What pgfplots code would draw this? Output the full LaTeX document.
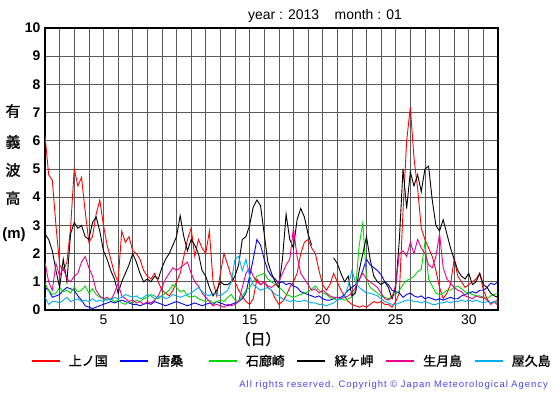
\documentclass[border=0pt]{standalone}
\usepackage{pgfplots}
\pgfplotsset{compat=1.18}
\usepackage{pgfplotstable}
\usepackage{fontspec}
\setmainfont{Liberation Sans}
\newfontfamily\jp{Noto Sans CJK JP}[FakeBold=1.2]
\newfontfamily\cprfont{Liberation Sans}[LetterSpace=10]
\definecolor{cpr}{RGB}{70,70,240}
\definecolor{grn}{RGB}{0,215,0}

\pgfplotstableread{
d R B G K M C
1.00 6.2 0.8 0.95 2.7 1.7 0.45
1.25 4.8 0.7 0.7 2.5 1.0 0.2
1.50 4.6 0.45 0.55 2.1 0.7 0.3
1.75 3.0 0.5 0.6 1.4 1.65 0.3
2.00 1.6 0.55 0.8 0.8 1.2 0.25
2.25 1.4 0.7 0.65 1.8 1.5 0.35
2.50 1.7 0.8 0.7 1.0 1.1 0.45
2.75 2.9 0.75 0.6 2.7 1.0 0.3
3.00 5.0 0.7 0.8 3.1 1.2 0.35
3.25 4.4 0.5 0.65 2.9 1.3 0.4
3.50 4.7 0.35 0.7 3.0 1.7 0.3
3.75 3.5 0.15 0.85 2.6 1.9 0.35
4.00 2.4 0.1 0.6 2.5 1.5 0.3
4.25 2.6 0.05 0.75 3.1 1.2 0.4
4.50 3.4 0.1 0.55 3.3 0.7 0.3
4.75 3.9 0.15 0.45 2.8 0.5 0.35
5.00 3.0 0.2 0.4 2.1 0.4 0.3
5.25 2.3 0.25 0.35 1.8 0.45 0.4
5.50 1.8 0.3 0.4 1.4 0.35 0.35
5.75 1.3 0.25 0.3 1.1 0.6 0.45
6.00 1.0 0.3 0.35 0.6 0.95 0.4
6.25 2.8 0.35 0.25 1.0 0.5 0.45
6.50 2.4 0.3 0.2 1.3 0.4 0.55
6.75 2.6 0.25 0.3 1.6 0.3 0.5
7.00 2.1 0.2 0.25 2.0 0.35 0.45
7.25 2.0 0.2 0.35 1.7 0.25 0.5
7.50 1.8 0.15 0.3 1.3 0.3 0.4
7.75 1.4 0.2 0.4 1.0 0.2 0.45
8.00 1.2 0.25 0.45 1.1 0.3 0.55
8.25 1.1 0.2 0.55 1.0 0.25 0.5
8.50 1.3 0.3 0.5 1.2 0.35 0.4
8.75 1.0 0.25 0.4 1.1 0.5 0.45
9.00 0.7 0.2 0.5 1.5 0.8 0.5
9.25 0.6 0.15 0.6 1.8 1.1 0.4
9.50 0.5 0.2 0.7 2.0 1.3 0.45
9.75 0.7 0.25 0.9 2.3 1.5 0.55
10.00 1.0 0.3 0.8 2.6 1.4 0.5
10.25 1.3 0.25 0.65 3.35 1.5 0.45
10.50 1.9 0.2 0.7 2.6 1.6 0.5
10.75 2.5 0.15 0.5 2.1 1.7 0.55
11.00 2.9 0.2 0.45 2.5 1.3 0.6
11.25 1.9 0.25 0.5 2.3 1.0 0.7
11.50 2.5 0.2 0.4 2.0 0.85 0.8
11.75 2.2 0.15 0.35 1.4 0.6 0.65
12.00 2.0 0.2 0.3 1.2 0.45 0.55
12.25 2.8 0.25 0.35 0.8 0.3 0.5
12.50 1.0 0.2 0.25 0.5 0.15 0.6
12.75 0.5 0.3 0.3 0.7 0.2 0.55
13.00 1.3 0.25 0.35 1.0 0.15 0.5
13.25 2.0 0.2 0.3 0.9 0.1 0.6
13.50 1.6 0.15 0.45 0.9 0.2 0.7
13.75 1.2 0.2 0.55 1.0 0.15 1.0
14.00 1.0 0.25 0.35 1.2 0.2 1.8
14.25 0.7 0.3 0.3 1.6 0.3 1.9
14.50 0.5 0.4 0.5 2.5 0.8 1.4
14.75 0.3 0.6 0.7 2.6 1.3 1.8
15.00 0.2 1.2 0.8 3.0 1.5 1.2
15.25 0.4 1.8 1.0 3.65 1.2 0.9
15.50 1.1 2.5 1.2 3.9 1.0 0.8
15.75 0.9 2.3 1.25 3.7 0.9 0.7
16.00 1.0 1.8 1.3 2.7 1.0 0.75
16.25 0.8 1.4 1.1 1.7 0.85 0.8
16.50 0.7 1.2 1.0 1.3 0.8 0.7
16.75 0.4 1.1 0.9 1.0 0.9 0.55
17.00 0.2 0.95 0.8 0.8 1.0 0.5
17.25 0.3 1.0 0.7 1.8 1.3 0.4
17.50 0.5 0.9 0.55 3.4 1.6 0.35
17.75 0.8 0.95 0.5 2.5 1.8 0.3
18.00 1.0 0.85 0.45 2.2 2.9 0.35
18.25 1.3 0.8 0.5 3.2 1.9 0.3
18.50 2.0 0.65 0.55 3.6 1.3 0.3
18.75 2.4 0.6 0.6 3.3 1.1 0.35
19.00 2.5 0.55 0.65 2.7 0.9 0.3
19.25 2.2 0.5 0.75 2.3 0.7 0.25
19.50 2.0 0.45 0.85 nan 0.75 0.25
19.75 1.4 0.5 0.7 nan 0.6 0.2
20.00 0.9 0.4 0.6 nan 0.7 0.2
20.25 0.7 0.35 0.55 nan 0.6 0.15
20.50 0.9 0.35 0.45 nan 0.5 0.2
20.75 1.3 0.4 0.4 1.85 0.45 0.25
21.00 1.0 0.45 0.35 1.65 0.45 0.35
21.25 0.7 0.45 0.4 1.3 0.4 0.4
21.50 0.5 0.55 0.35 1.0 0.45 0.5
21.75 0.3 0.7 0.4 1.2 0.5 0.85
22.00 0.2 0.8 0.45 0.5 0.6 1.4
22.25 0.15 0.9 0.7 0.6 0.8 1.0
22.50 0.1 1.05 2.3 1.4 1.1 0.8
22.75 0.15 1.4 3.1 2.0 1.3 0.7
23.00 0.1 1.8 1.1 2.6 1.1 0.6
23.25 0.2 1.6 0.8 1.8 1.0 0.6
23.50 0.3 1.5 0.7 1.2 0.9 0.55
23.75 0.25 1.4 0.6 1.0 0.8 0.5
24.00 0.3 1.25 0.5 0.9 0.6 0.4
24.25 0.2 1.0 0.45 1.0 0.4 0.3
24.50 0.2 0.9 0.4 0.8 0.35 0.25
24.75 0.1 0.7 0.5 0.4 0.45 0.2
25.00 0.3 0.65 0.55 0.8 0.9 0.2
25.25 0.6 0.6 0.7 2.5 2.0 0.25
25.50 3.5 0.45 0.9 5.0 2.1 0.3
25.75 6.0 0.55 1.05 3.6 1.9 0.35
26.00 7.2 0.6 1.1 4.9 2.4 0.35
26.25 5.4 0.5 1.2 4.4 2.0 0.3
26.50 4.3 0.45 1.35 4.8 2.5 0.3
26.75 2.9 0.5 1.45 4.2 2.2 0.25
27.00 2.5 0.4 2.4 5.0 2.0 0.3
27.25 2.2 0.45 1.1 5.1 1.6 0.25
27.50 1.9 0.4 0.85 3.9 1.5 0.2
27.75 1.4 0.35 0.6 3.0 1.9 0.2
28.00 0.8 0.4 0.55 2.8 2.7 0.25
28.25 0.4 0.35 0.6 3.2 1.5 0.25
28.50 0.6 0.4 0.7 2.7 1.1 0.3
28.75 0.9 0.45 0.7 2.2 0.95 0.25
29.00 1.8 0.4 0.8 1.8 0.8 0.3
29.25 1.2 0.4 0.85 1.4 0.7 0.3
29.50 1.0 0.5 0.75 1.2 0.65 0.35
29.75 0.8 0.55 0.65 1.1 0.5 0.3
30.00 0.9 0.6 0.6 1.3 0.45 0.35
30.25 1.0 0.65 0.55 0.9 0.4 0.3
30.50 1.1 0.6 0.5 1.0 0.5 0.35
30.75 1.3 0.7 0.5 1.3 0.45 0.3
31.00 0.7 0.7 0.45 0.9 0.45 0.25
31.25 0.4 0.8 0.4 0.8 0.35 0.3
31.50 0.2 0.95 0.5 0.6 0.25 0.25
31.75 0.3 0.9 0.55 0.5 0.3 0.3
32.00 0.15 1.0 0.6 0.45 0.35 0.25
}\waves

\begin{document}
\begin{tikzpicture}
\useasboundingbox (0,0) rectangle (555bp,395bp);
\begin{axis}[
  at={(45bp,85bp)}, anchor=south west, scale only axis,
  width=453bp, height=282bp,
  xmin=1, xmax=32, ymin=0, ymax=10,
  xtick={5,10,15,20,25,30},
  minor xtick={1,2,...,32},
  ytick={0,1,...,10},
  grid=both,
  major grid style={black!65, line width=0.6bp},
  minor grid style={black!65, line width=0.6bp},
  major tick length=0pt, minor tick length=0pt,
  axis line style={line width=1.2bp},
  /pgf/number format/assume math mode=true,
  yticklabel style={font=\bfseries\fontsize{14}{14}\selectfont, xshift=-1bp},
  xticklabel style={font=\fontsize{14}{14}\selectfont, yshift=-1bp},
  unbounded coords=jump,
  every axis plot/.append style={line width=0.9bp},
  legend columns=6,
  legend style={at={(-0.0331,-0.181)}, anchor=west, draw=none, fill=none,
    font=\jp\fontsize{13}{13}\selectfont, inner sep=0pt,
    nodes={inner sep=0pt},
    column sep=0bp,
    /tikz/every odd column/.append style={column sep=8bp}},
  legend image code/.code={\draw[#1, line width=2.6bp] (0bp,0bp) -- (28bp,0bp);},
]
\addplot[red] table[x=d, y=R] {\waves};
\addlegendentry{\makebox[50bp][l]{上ノ国}}
\addplot[blue] table[x=d, y=B] {\waves};
\addlegendentry{\makebox[50bp][l]{唐桑}}
\addplot[grn] table[x=d, y=G] {\waves};
\addlegendentry{\makebox[50bp][l]{石廊崎}}
\addplot[black] table[x=d, y=K] {\waves};
\addlegendentry{\makebox[50bp][l]{経ヶ岬}}
\addplot[magenta] table[x=d, y=M] {\waves};
\addlegendentry{\makebox[50bp][l]{生月島}}
\addplot[cyan] table[x=d, y=C] {\waves};
\addlegendentry{\makebox[40bp][l]{屋久島}}
\end{axis}
\node[font=\fontsize{14}{14}\selectfont] at (325bp,379bp) {year : 2013\ \ \ \ month : 01};
\begin{scope}[every node/.style={font=\jp\fontsize{15}{15}\selectfont}]
\node at (13bp,284bp) {有};
\node at (13bp,253bp) {義};
\node at (13bp,225bp) {波};
\node at (13bp,197bp) {高};
\node[font=\bfseries\fontsize{15}{15}\selectfont, inner sep=0pt] at (14bp,160bp) {(m)};
\node[font=\jp\fontsize{15}{15}\selectfont] at (258bp,56bp) {（日）};
\end{scope}
\node[anchor=east, text=cpr, font=\cprfont\fontsize{9.5}{9.5}\selectfont, inner sep=0pt] at (548bp,10bp) {All rights reserved. Copyright \textcopyright{} Japan Meteorological Agency};
\end{tikzpicture}
\end{document}
